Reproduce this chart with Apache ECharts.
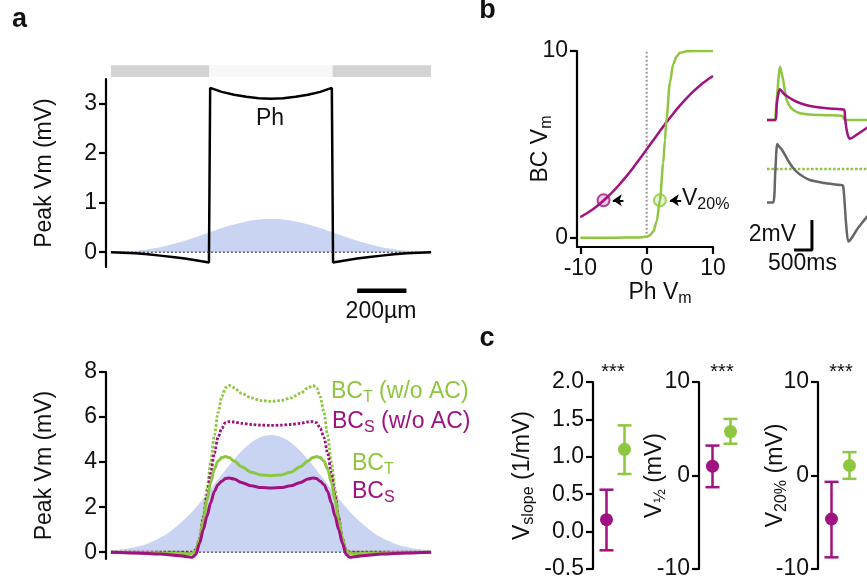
<!DOCTYPE html>
<html>
<head>
<meta charset="utf-8">
<script src="https://cdn.jsdelivr.net/npm/echarts@6/dist/echarts.min.js"></script>
<style>
  html, body { margin: 0; padding: 0; background: #fff; }
  #chart { width: 867px; height: 582px; }
</style>
</head>
<body>
<div id="chart"></div>
<script>
// ---------- data ----------
// panel a, top: photoreceptor (Ph) response and HC feedback, x in µm
const phX = [-650, -600, -550, -500, -450, -400, -350, -300, -252, -247, -200, -150, -100, -50, 0, 50, 100, 150, 200, 247, 252, 300, 350, 400, 450, 500, 550, 600, 650];
const phY = [0, -0.01, -0.02, -0.04, -0.07, -0.10, -0.13, -0.17, -0.21, 3.32, 3.24, 3.18, 3.14, 3.11, 3.10, 3.11, 3.14, 3.18, 3.24, 3.32, -0.21, -0.17, -0.13, -0.10, -0.07, -0.04, -0.02, -0.01, 0];
const bellX = [-650, -600, -550, -500, -450, -400, -350, -300, -250, -200, -150, -100, -50, 0, 50, 100, 150, 200, 250, 300, 350, 400, 450, 500, 550, 600, 650];
const hcY = [0.005, 0.015, 0.03, 0.06, 0.10, 0.16, 0.23, 0.31, 0.40, 0.49, 0.56, 0.62, 0.66, 0.67, 0.66, 0.62, 0.56, 0.49, 0.40, 0.31, 0.23, 0.16, 0.10, 0.06, 0.03, 0.015, 0.005];
const stimEdges = [-650, -250, 250, 650];
const scaleBarUm = [350, 550];

// panel a, bottom: amacrine cell (AC) and bipolar cells (BC)
const acY = [0.07, 0.13, 0.23, 0.39, 0.64, 1.00, 1.47, 2.05, 2.73, 3.44, 4.12, 4.69, 5.07, 5.20, 5.07, 4.69, 4.12, 3.44, 2.73, 2.05, 1.47, 1.00, 0.64, 0.39, 0.23, 0.13, 0.07];
const bcX = [-650, -550, -450, -380, -340, -320, -305, -290, -275, -260, -245, -230, -215, -200, -185, -170, -150, -120, -80, -40, 0,
             40, 80, 120, 150, 170, 185, 200, 215, 230, 245, 260, 275, 290, 305, 320, 340, 380, 450, 550, 650];
const bcT = [0, -0.02, -0.03, -0.05, -0.07, -0.05, 0.05, 0.6, 1.4, 2.3, 3.1, 3.7, 4.05, 4.2, 4.25, 4.2, 4.05, 3.8, 3.55, 3.43, 3.4,
             3.43, 3.55, 3.8, 4.05, 4.2, 4.25, 4.2, 4.05, 3.7, 3.1, 2.3, 1.4, 0.6, 0.05, -0.05, -0.07, -0.05, -0.03, -0.02, 0];
const bcS = [0, -0.03, -0.08, -0.14, -0.2, -0.22, -0.1, 0.4, 1.0, 1.6, 2.2, 2.7, 3.0, 3.15, 3.27, 3.3, 3.25, 3.1, 2.95, 2.87, 2.85,
             2.87, 2.95, 3.1, 3.25, 3.3, 3.27, 3.15, 3.0, 2.7, 2.2, 1.6, 1.0, 0.4, -0.1, -0.22, -0.2, -0.14, -0.08, -0.03, 0];
const bcTnoAC = [0, 0, 0, 0, 0, 0, 0.1, 0.6, 1.6, 2.8, 4.0, 5.2, 6.2, 6.9, 7.3, 7.4, 7.3, 7.05, 6.85, 6.73, 6.7,
                 6.73, 6.85, 7.05, 7.3, 7.4, 7.3, 6.9, 6.2, 5.2, 4.0, 2.8, 1.6, 0.6, 0.1, 0, 0, 0, 0, 0, 0];
const bcSnoAC = [0, 0, 0, 0, 0, 0, 0.1, 0.6, 1.5, 2.5, 3.5, 4.4, 5.1, 5.5, 5.75, 5.8, 5.78, 5.72, 5.67, 5.64, 5.63,
                 5.64, 5.67, 5.72, 5.78, 5.8, 5.75, 5.5, 5.1, 4.4, 3.5, 2.5, 1.5, 0.6, 0.1, 0, 0, 0, 0, 0, 0];

// panel b, left: BC Vm vs Ph Vm transfer curves
const sigSX = [-10, -9, -8, -7, -6, -5, -4, -3, -2, -1, 0, 1, 2, 3, 4, 5, 6, 7, 8, 9, 10];
const sigSY = [1.1, 1.31, 1.55, 1.83, 2.15, 2.5, 2.89, 3.31, 3.76, 4.24, 4.73, 5.22, 5.71, 6.19, 6.64, 7.07, 7.46, 7.82, 8.14, 8.42, 8.66];
const sigTX = [-10, -5, -1, 0, 0.5, 1, 1.5, 2, 2.5, 2.75, 3, 3.5, 4, 4.5, 5, 6, 7, 10];
const sigTY = [0, 0, 0.01, 0.05, 0.13, 0.33, 0.85, 2.0, 4.0, 5.2, 6.4, 8.3, 9.3, 9.7, 9.9, 9.98, 10, 10];
const v20S = [-6.5, 2.0];
const v20T = [2.0, 2.0];

// panel b, right: example traces (time in ms, mV)
const trGreenT = [0, 220, 235, 280, 330, 362, 400, 455, 500, 549, 640, 733, 919, 1200, 1600, 2100, 2160, 2800];
const trGreenV = [0, 0, 0.3, 1.6, 3.0, 3.55, 3.2, 2.6, 1.9, 1.33, 0.9, 0.67, 0.45, 0.37, 0.32, 0.27, 0.0, 0.0];
const trPurpleT = [0, 240, 270, 320, 362, 450, 550, 733, 950, 1198, 1600, 2080, 2150, 2180, 2230, 2300, 2400, 2550, 2800];
const trPurpleV = [0, 0, 1.0, 1.8, 2.05, 1.8, 1.6, 1.33, 1.1, 0.93, 0.8, 0.71, 0.7, 0.0, -0.8, -1.25, -1.15, -0.9, -0.5];
const trGrayT = [0, 170, 230, 287, 350, 420, 501, 600, 733, 900, 1198, 1600, 2033, 2120, 2200, 2265, 2350, 2498, 2650, 2800];
const trGrayV = [-5.5, -5.5, -3.5, -1.6, -1.8, -2.0, -2.33, -2.75, -3.22, -3.6, -4.0, -4.2, -4.33, -4.38, -6.8, -8.1, -7.9, -7.33, -6.85, -6.4];
const trThreshold = -3.27;
const scaleBarMs = [752, 1252];
const scaleBarMv = [-8.67, -6.67];

// panel c: mean ± error per cell type (sustained, transient)
const groupPos = [0, 1];
const slopeMean = [0.16, 1.10], slopeLo = [-0.25, 0.77], slopeHi = [0.56, 1.42];
const halfMean = [1.0, 4.7], halfLo = [-1.25, 3.4], halfHi = [3.2, 6.05];
const v20Mean = [-4.65, 1.07], v20Lo = [-8.75, -0.36], v20Hi = [-0.68, 2.5];

// ---------- styling ----------
const FONT = 'Liberation Sans, Arial, Helvetica, sans-serif';
const TXT = '#111';
const GREEN = '#8dc63f';
const PURPLE = '#a0127f';
const FILL = '#c9d4f2';
const BLUE = '#3a6ad6';
const dots = { type: [2.6, 1.8], width: 2.8 };

const zip = (xs, ys) => xs.map((x, i) => [x, ys[i]]);

const rich = {
  n: { fontSize: 23, lineHeight: 28, fontFamily: FONT },
  s: { fontSize: 16, lineHeight: 16, verticalAlign: 'bottom', fontFamily: FONT }
};

function yAx(gridIndex, min, max, ticks, extra) {
  return Object.assign({
    type: 'value', gridIndex, min, max, nameMoveOverlap: false,
    axisLine: { show: true, onZero: false, lineStyle: { color: '#000', width: 2.2 } },
    axisTick: { show: true, length: 7, customValues: ticks, lineStyle: { color: '#000', width: 2.2 } },
    axisLabel: { customValues: ticks, fontSize: 23, fontFamily: FONT, color: TXT, margin: 9 },
    splitLine: { show: false }
  }, extra || {});
}

function hiddenX(gridIndex, min, max) {
  return { type: 'value', gridIndex, min, max, show: false, axisLine: { onZero: false }, splitLine: { show: false } };
}

function line(grid, data, color, width, extra) {
  return Object.assign({
    type: 'line', xAxisIndex: grid, yAxisIndex: grid, data, symbol: 'none', silent: true,
    lineStyle: { color, width }, animation: false
  }, extra || {});
}

function errorBars(grid, mean, lo, hi) {
  const colors = [PURPLE, GREEN];
  return {
    type: 'custom', xAxisIndex: grid, yAxisIndex: grid, clip: false, silent: true,
    data: groupPos.map((g, i) => [g, lo[i], hi[i], mean[i]]),
    renderItem: (params, api) => {
      const x = api.value(0);
      const a = api.coord([x, api.value(1)]);
      const b = api.coord([x, api.value(2)]);
      const m = api.coord([x, api.value(3)]);
      const c = colors[params.dataIndex];
      const st = { stroke: c, lineWidth: 2.5, fill: null };
      const hw = 7;
      return {
        type: 'group', children: [
          { type: 'line', shape: { x1: a[0], y1: a[1], x2: b[0], y2: b[1] }, style: st },
          { type: 'line', shape: { x1: a[0] - hw, y1: a[1], x2: a[0] + hw, y2: a[1] }, style: st },
          { type: 'line', shape: { x1: b[0] - hw, y1: b[1], x2: b[0] + hw, y2: b[1] }, style: st },
          { type: 'circle', shape: { cx: m[0], cy: m[1], r: 6.5 }, style: { fill: c } }
        ]
      };
    }
  };
}

function txt(x, y, text, opts) {
  return {
    type: 'text', x, y, silent: true,
    style: Object.assign({ text, fontSize: 23, fontFamily: FONT, fill: TXT, align: 'center', verticalAlign: 'middle', rich }, opts || {})
  };
}

const gridBase = { containLabel: false, outerBoundsMode: 'none' };

const option = {
  animation: false,
  backgroundColor: '#fff',
  grid: [
    Object.assign({ left: 106, top: 79, width: 330, height: 188 }, gridBase),   // a top
    Object.assign({ left: 106, top: 372, width: 330, height: 187 }, gridBase),  // a bottom
    Object.assign({ left: 577, top: 51, width: 136, height: 196 }, gridBase),   // b transfer
    Object.assign({ left: 767, top: 60, width: 140, height: 210 }, gridBase),   // b traces
    Object.assign({ left: 593, top: 382, width: 40.5, height: 187 }, gridBase), // c slope
    Object.assign({ left: 699, top: 382, width: 40.5, height: 187 }, gridBase), // c V1/2
    Object.assign({ left: 818, top: 382, width: 40.5, height: 187 }, gridBase)  // c V20%
  ],
  xAxis: [
    hiddenX(0, -670, 670),
    hiddenX(1, -670, 670),
    {
      type: 'value', gridIndex: 2, min: -10.5, max: 10, nameMoveOverlap: false,
      axisLine: { show: true, onZero: false, lineStyle: { color: '#000', width: 2.2 } },
      axisTick: { show: true, length: 7, customValues: [-10, 0, 10], lineStyle: { color: '#000', width: 2.2 } },
      axisLabel: { customValues: [-10, 0, 10], fontSize: 23, fontFamily: FONT, color: TXT, margin: 10 },
      splitLine: { show: false },
      name: '{n|Ph V}{s|m}', nameLocation: 'middle', nameGap: 32,
      nameTextStyle: { color: TXT, rich, padding: [0, 0, 0, 30] }
    },
    hiddenX(3, 0, 3900),
    hiddenX(4, -0.75, 1.5),
    hiddenX(5, -0.75, 1.5),
    hiddenX(6, -0.75, 1.5)
  ],
  yAxis: [
    yAx(0, -0.3, 3.5, [0, 1, 2, 3], {
      name: 'Peak Vm (mV)', nameLocation: 'middle', nameRotate: 90, nameGap: 50,
      nameTextStyle: { fontSize: 23, fontFamily: FONT, color: TXT }
    }),
    yAx(1, -0.3, 8, [0, 2, 4, 6, 8], {
      name: 'Peak Vm (mV)', nameLocation: 'middle', nameRotate: 90, nameGap: 50,
      nameTextStyle: { fontSize: 23, fontFamily: FONT, color: TXT }
    }),
    yAx(2, -0.5, 10, [0, 10], {
      name: '{n|BC V}{s|m}', nameLocation: 'middle', nameRotate: 90, nameGap: 22,
      nameTextStyle: { color: TXT, rich }
    }),
    { type: 'value', gridIndex: 3, min: -10, max: 4, show: false, axisLine: { onZero: false }, splitLine: { show: false } },
    yAx(4, -0.5, 2, [-0.5, 0, 0.5, 1, 1.5, 2], {
      name: '{n|V}{s|slope}{n| (1/mV)}', nameLocation: 'middle', nameRotate: 90, nameGap: 56,
      nameTextStyle: { color: TXT, rich }
    }),
    yAx(5, -10, 10, [-10, 0, 10], {
      name: '{n|V}{s|½}{n| (mV)}', nameLocation: 'middle', nameRotate: 90, nameGap: 30,
      nameTextStyle: { color: TXT, rich }
    }),
    yAx(6, -10, 10, [-10, 0, 10], {
      name: '{n|V}{s|20%}{n| (mV)}', nameLocation: 'middle', nameRotate: 90, nameGap: 28,
      nameTextStyle: { color: TXT, rich }
    })
  ],
  series: [
    // ----- a top -----
    {
      type: 'custom', xAxisIndex: 0, yAxisIndex: 0, clip: false, silent: true,
      data: [[stimEdges[0], stimEdges[1]], [stimEdges[1], stimEdges[2]], [stimEdges[2], stimEdges[3]]],
      renderItem: (params, api) => {
        const p0 = api.coord([api.value(0), 3.78]);
        const p1 = api.coord([api.value(1), 3.54]);
        return {
          type: 'rect',
          shape: { x: p0[0], y: p0[1], width: p1[0] - p0[0], height: p1[1] - p0[1] },
          style: { fill: params.dataIndex === 1 ? '#f7f7f7' : '#d3d3d3' }
        };
      }
    },
    line(0, zip(bellX, hcY), FILL, 0, { smooth: 0.4, areaStyle: { color: FILL, opacity: 1 } }),
    line(0, [[-650, 0], [650, 0]], '#666', 1.5, { lineStyle: { color: '#666', width: 1.5, type: [2, 2] } }),
    line(0, zip(phX, phY), '#000', 2.5),
    line(0, [[scaleBarUm[0], -0.78], [scaleBarUm[1], -0.78]], '#000', 4.5, { clip: false }),

    // ----- a bottom -----
    line(1, zip(bellX, acY), FILL, 0, { smooth: 0.4, areaStyle: { color: FILL, opacity: 1 } }),
    line(1, [[-650, 0], [650, 0]], '#666', 1.5, { lineStyle: { color: '#666', width: 1.5, type: [2, 2] } }),
    line(1, zip(bcX, bcTnoAC), GREEN, 3, { smooth: 0.3, smoothMonotone: 'x', lineStyle: Object.assign({ color: GREEN }, dots) }),
    line(1, zip(bcX, bcSnoAC), PURPLE, 3, { smooth: 0.3, smoothMonotone: 'x', lineStyle: Object.assign({ color: PURPLE }, dots) }),
    line(1, zip(bcX, bcT), GREEN, 3, { smooth: 0.3, smoothMonotone: 'x' }),
    line(1, zip(bcX, bcS), PURPLE, 3, { smooth: 0.3, smoothMonotone: 'x' }),

    // ----- b transfer curves -----
    line(2, [[0, 0], [0, 10]], '#999', 2, { lineStyle: { color: '#999', width: 2, type: [2, 2] } }),
    line(2, zip(sigSX, sigSY), PURPLE, 2.5, {
      smooth: 0.3,
      markLine: {
        silent: true, symbol: ['none', 'arrow'], symbolSize: 9, animation: false,
        lineStyle: { color: '#000', width: 2, type: 'solid' }, label: { show: false },
        data: [
          [{ coord: [-3.5, 2] }, { coord: [-5.1, 2] }],
          [{ coord: [5.2, 2] }, { coord: [3.5, 2] }]
        ]
      }
    }),
    line(2, zip(sigTX, sigTY), GREEN, 2.5, { smooth: 0.3, smoothMonotone: 'x' }),
    {
      type: 'scatter', xAxisIndex: 2, yAxisIndex: 2, silent: true, symbolSize: 12,
      data: [v20S], itemStyle: { color: '#e9bde0', borderColor: PURPLE, borderWidth: 2 }
    },
    {
      type: 'scatter', xAxisIndex: 2, yAxisIndex: 2, silent: true, symbolSize: 12,
      data: [v20T], itemStyle: { color: '#dcefc4', borderColor: GREEN, borderWidth: 2 }
    },

    // ----- b traces -----
    line(3, [[0, trThreshold], [3900, trThreshold]], GREEN, 2.6, { lineStyle: Object.assign({ color: GREEN }, dots, { width: 2.6 }) }),
    line(3, zip(trGrayT, trGrayV), '#666', 2.5, { smooth: 0.25 }),
    line(3, zip(trGreenT, trGreenV), GREEN, 2.5, { smooth: 0.25 }),
    line(3, zip(trPurpleT, trPurpleV), PURPLE, 2.5, { smooth: 0.25 }),
    line(3, [[scaleBarMs[1], scaleBarMv[1]], [scaleBarMs[1], scaleBarMv[0]], [scaleBarMs[0], scaleBarMv[0]]], '#000', 3),

    // ----- c -----
    errorBars(4, slopeMean, slopeLo, slopeHi),
    errorBars(5, halfMean, halfLo, halfHi),
    errorBars(6, v20Mean, v20Lo, v20Hi)
  ],
  graphic: [
    txt(19.5, 19.5, 'a', { fontSize: 27, fontWeight: 'bold' }),
    txt(487.5, 10.5, 'b', { fontSize: 27, fontWeight: 'bold' }),
    txt(487, 338.5, 'c', { fontSize: 27, fontWeight: 'bold' }),
    txt(270, 119, 'Ph'),
    txt(270, 238, 'HC', { fill: BLUE }),
    txt(381, 311.5, '200µm'),
    txt(270, 532, 'AC', { fill: BLUE }),
    txt(331, 392, '{n|BC}{s|T}{n| (w/o AC)}', { fill: GREEN, align: 'left' }),
    txt(332, 422, '{n|BC}{s|S}{n| (w/o AC)}', { fill: PURPLE, align: 'left' }),
    txt(352, 464, '{n|BC}{s|T}', { fill: GREEN, align: 'left' }),
    txt(352, 492, '{n|BC}{s|S}', { fill: PURPLE, align: 'left' }),
    txt(682, 199, '{n|V}{s|20%}', { align: 'left' }),
    txt(796, 235, '2mV', { align: 'right' }),
    txt(802.5, 264, '500ms'),
    txt(613, 372, '***', { fontSize: 20 }),
    txt(722, 372, '***', { fontSize: 20 }),
    txt(841, 372, '***', { fontSize: 20 })
  ]
};
// one-decimal tick labels on the slope axis
option.yAxis[4].axisLabel.formatter = (v) => v.toFixed(1);

const chart = echarts.init(document.getElementById('chart'));
chart.setOption(option);
</script>
</body>
</html>
